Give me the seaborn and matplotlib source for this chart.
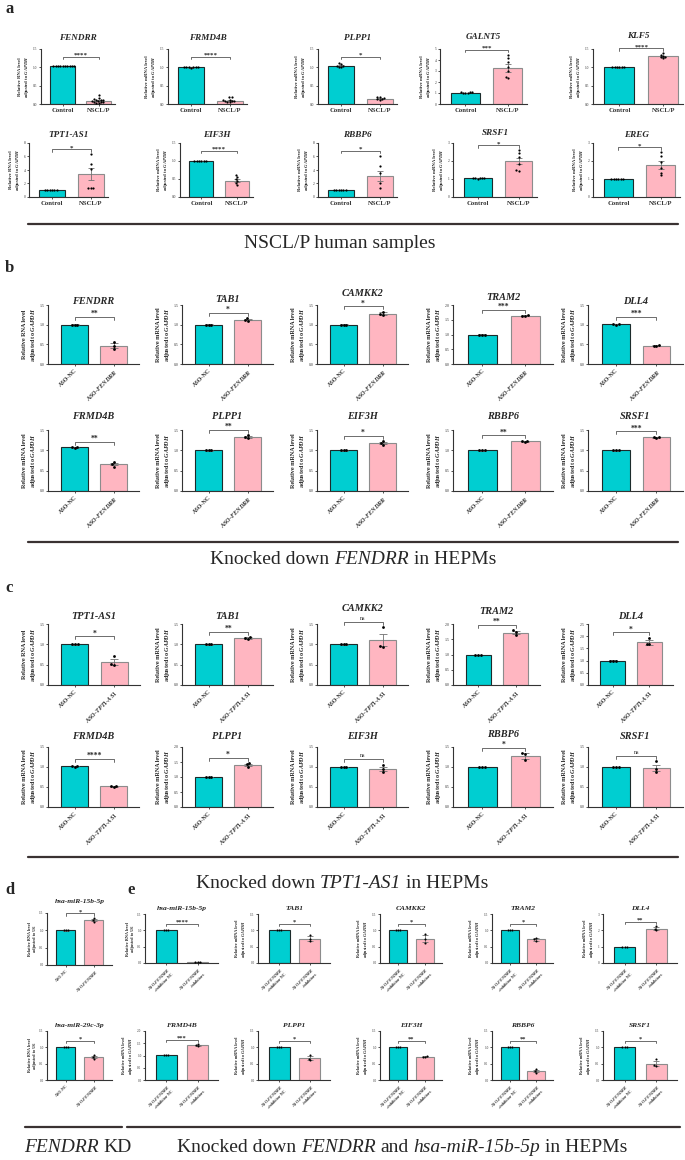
import matplotlib
matplotlib.use('Agg')
import matplotlib.pyplot as plt
import matplotlib.transforms as mtransforms
from matplotlib.lines import Line2D
import seaborn as sns
import pandas as pd
import numpy as np

sns.set_style('ticks')
plt.rcParams['font.family'] = ['Liberation Serif', 'DejaVu Serif']
plt.rcParams['mathtext.fontset'] = 'custom'
plt.rcParams['mathtext.rm'] = 'Liberation Serif:bold'
plt.rcParams['mathtext.it'] = 'Liberation Serif:italic:bold'
plt.rcParams['mathtext.bf'] = 'Liberation Serif:bold'

TEAL = '#00CED1'
PINK = '#FFB6C1'
W, H = 685, 1160

# ---------------- data ----------------
# panel a, row 1 (Control vs NSCL/P)
a1_genes = ['FENDRR', 'FRMD4B', 'PLPP1', 'GALNT5', 'KLF5']
a1_ctrl = [1.04, 1.0, 1.05, 1.04, 1.0]
a1_trt = [0.09, 0.09, 0.15, 3.28, 1.30]
a1_sem = [0.02, 0.02, 0.02, 0.35, 0.02]
a1_ctrl_pts = [[1.03, 1.04, 1.05, 1.03, 1.04, 1.05, 1.04, 1.03, 1.05, 1.04],
               [1.0, 1.0, 1.01, 1.0, 0.99, 1.0, 1.0],
               [1.0, 1.02, 1.03, 1.05, 1.08, 1.12],
               [1.0, 1.02, 1.04, 1.05, 1.06, 1.07],
               [1.0, 1.0, 1.0, 1.0, 1.0, 1.0]]
a1_trt_pts = [[0.03, 0.04, 0.05, 0.06, 0.06, 0.08, 0.09, 0.10, 0.11, 0.12, 0.14, 0.16, 0.24],
              [0.05, 0.06, 0.07, 0.08, 0.09, 0.10, 0.12, 0.18, 0.20],
              [0.11, 0.13, 0.14, 0.16, 0.18, 0.20],
              [2.35, 2.5, 3.0, 3.4, 3.8, 4.2, 4.5],
              [1.25, 1.27, 1.29, 1.31, 1.33, 1.38]]
a1_ymax = [1.5, 1.5, 1.5, 5, 1.5]
a1_step = [0.5, 0.5, 0.5, 1, 0.5]
a1_sig = ['****', '****', '*', '***', '****']

# panel a, row 2
a2_genes = ['TPT1-AS1', 'EIF3H', 'RBBP6', 'SRSF1', 'EREG']
a2_ctrl = [1.0, 1.0, 1.0, 1.05, 1.0]
a2_trt = [3.4, 0.45, 3.1, 2.0, 1.78]
a2_sem = [0.9, 0.04, 0.75, 0.15, 0.2]
a2_ctrl_pts = [[1.0, 1.0, 1.0, 1.0, 1.0, 1.0],
               [1.0, 1.0, 1.0, 1.0, 1.0, 1.0],
               [1.0, 1.0, 1.0, 1.0, 1.0, 1.0],
               [1.02, 1.04, 1.05, 1.06, 1.05, 1.07],
               [1.0, 1.0, 1.0, 1.0, 1.0, 1.0]]
a2_trt_pts = [[1.3, 1.3, 1.4, 4.1, 4.85, 6.35],
              [0.33, 0.38, 0.45, 0.5, 0.55, 0.6],
              [1.4, 2.0, 3.5, 4.6, 6.0],
              [1.45, 1.5, 1.85, 2.2, 2.45, 2.6],
              [1.2, 1.35, 1.6, 1.95, 2.3, 2.5]]
a2_ymax = [8, 1.5, 8, 3, 3]
a2_step = [2, 0.5, 2, 1, 1]
a2_sig = ['*', '****', '*', '*', '*']

# panel b, row 1 (ASO-NC vs ASO-FENDRR)
b1_genes = ['FENDRR', 'TAB1', 'CAMKK2', 'TRAM2', 'DLL4']
b1_ctrl = [1.0, 1.0, 1.0, 1.0, 1.01]
b1_trt = [0.47, 1.13, 1.28, 1.64, 0.47]
b1_sem = [0.06, 0.02, 0.03, 0.01, 0.02]
b1_ctrl_pts = [[1.0, 1.0, 1.0], [1.0, 1.0, 1.0], [1.0, 1.0, 1.0], [1.0, 1.0, 1.0], [1.0, 1.01, 1.02]]
b1_trt_pts = [[0.38, 0.46, 0.57], [1.10, 1.12, 1.17], [1.24, 1.28, 1.33], [1.63, 1.64, 1.65], [0.45, 0.47, 0.49]]
b1_ymax = [1.5, 1.5, 1.5, 2.0, 1.5]
b1_sig = ['**', '*', '*', '***', '***']

# panel b, row 2
b2_genes = ['FRMD4B', 'PLPP1', 'EIF3H', 'RBBP6', 'SRSF1']
b2_ctrl = [1.07, 1.0, 1.0, 1.0, 1.0]
b2_trt = [0.66, 1.33, 1.18, 1.22, 1.32]
b2_sem = [0.03, 0.02, 0.03, 0.01, 0.01]
b2_ctrl_pts = [[1.06, 1.07, 1.08], [1.0, 1.0, 1.0], [1.0, 1.0, 1.0], [1.0, 1.0, 1.0], [1.0, 1.0, 1.0]]
b2_trt_pts = [[0.60, 0.66, 0.71], [1.30, 1.33, 1.37], [1.13, 1.18, 1.22], [1.20, 1.22, 1.24], [1.31, 1.32, 1.33]]
b2_ymax = [1.5, 1.5, 1.5, 1.5, 1.5]
b2_sig = ['**', '**', '*', '**', '***']

# panel c, row 1 (ASO-NC vs ASO-TPT1-AS1)
c1_genes = ['TPT1-AS1', 'TAB1', 'CAMKK2', 'TRAM2', 'DLL4']
c1_ctrl = [1.0, 1.0, 1.0, 0.98, 1.0]
c1_trt = [0.57, 1.15, 1.1, 1.72, 1.75]
c1_sem = [0.07, 0.02, 0.15, 0.05, 0.1]
c1_ctrl_pts = [[1.0, 1.0, 1.0], [1.0, 1.0, 1.0], [1.0, 1.0, 1.0], [0.98, 0.98, 0.98], [1.0, 1.0, 1.0]]
c1_trt_pts = [[0.50, 0.51, 0.72], [1.13, 1.16, 1.18], [0.93, 0.96, 1.42], [1.65, 1.75, 1.80], [1.66, 1.70, 1.93]]
c1_ymax = [1.5, 1.5, 1.5, 2.0, 2.5]
c1_sig = ['*', '**', 'ns', '**', '*']

# panel c, row 2
c2_genes = ['FRMD4B', 'PLPP1', 'EIF3H', 'RBBP6', 'SRSF1']
c2_ctrl = [1.02, 1.0, 1.0, 1.0, 1.0]
c2_trt = [0.52, 1.4, 0.95, 1.27, 0.98]
c2_sem = [0.01, 0.04, 0.05, 0.07, 0.08]
c2_ctrl_pts = [[1.01, 1.02, 1.03], [1.0, 1.0, 1.0], [1.0, 1.0, 1.0], [1.0, 1.0, 1.0], [1.0, 1.0, 1.0]]
c2_trt_pts = [[0.51, 0.52, 0.53], [1.33, 1.42, 1.47], [0.87, 0.95, 1.05], [1.18, 1.32, 1.35], [0.88, 0.95, 1.14]]
c2_ymax = [1.5, 2.0, 1.5, 1.5, 1.5]
c2_sig = ['****', '*', 'ns', '*', 'ns']

# panel d (ASO-NC vs ASO-FENDRR, miRNA)
d_genes = ['hsa-miR-15b-5p', 'hsa-miR-29c-3p']
d_ctrl = [1.0, 1.0]
d_trt = [1.3, 0.7]
d_sem = [0.04, 0.04]
d_ctrl_pts = [[1.0, 1.0, 1.0], [1.0, 1.0, 1.0]]
d_trt_pts = [[1.25, 1.3, 1.36], [0.64, 0.70, 0.77]]
d_ymax = [1.5, 1.5]
d_sig = ['*', '*']

# panel e, row 1 (ASO-FENDRR +inhibitor NC vs +inhibitors)
e1_genes = ['hsa-miR-15b-5p', 'TAB1', 'CAMKK2', 'TRAM2', 'DLL4']
e1_ctrl = [1.0, 1.0, 1.0, 1.0, 1.0]
e1_trt = [0.03, 0.75, 0.75, 0.72, 2.1]
e1_sem = [0.01, 0.07, 0.1, 0.04, 0.1]
e1_ctrl_pts = [[1.0, 1.0, 1.0], [1.0, 1.0, 1.0], [1.0, 1.0, 1.0], [1.0, 1.0, 1.0], [1.0, 1.0, 1.0]]
e1_trt_pts = [[0.02, 0.03, 0.04], [0.66, 0.74, 0.85], [0.62, 0.75, 0.88], [0.68, 0.72, 0.76], [2.0, 2.1, 2.25]]
e1_ymax = [1.5, 1.5, 1.5, 1.5, 3.0]
e1_step = [0.5, 0.5, 0.5, 0.5, 1]
e1_sig = ['****', '*', '*', '*', '**']

# panel e, row 2
e2_genes = ['FRMD4B', 'PLPP1', 'EIF3H', 'RBBP6', 'SRSF1']
e2_ctrl = [1.02, 1.0, 1.0, 1.0, 1.0]
e2_trt = [1.42, 0.67, 0.71, 0.28, 0.5]
e2_sem = [0.02, 0.06, 0.02, 0.04, 0.07]
e2_ctrl_pts = [[1.01, 1.02, 1.03], [1.0, 1.0, 1.0], [1.0, 1.0, 1.0], [1.0, 1.0, 1.0], [1.0, 1.0, 1.0]]
e2_trt_pts = [[1.38, 1.42, 1.46], [0.60, 0.65, 0.77], [0.70, 0.71, 0.73], [0.22, 0.28, 0.34], [0.42, 0.45, 0.63]]
e2_ymax = [2.0, 1.5, 1.5, 1.5, 1.5]
e2_sig = ['***', '*', '**', '**', '*']

xl_a = ['Control', 'NSCL/P']
xl_b = ['ASO-NC', 'ASO-$\\mathit{FENDRR}$']
xl_c = ['ASO-NC', 'ASO-$\\mathit{TPT1}$-$\\mathit{AS1}$']
xl_e = ['ASO-$\\mathit{FENDRR}$\n+inhibitor NC', 'ASO-$\\mathit{FENDRR}$\n+inhibitors']
yl_rna = 'Relative RNA level\nadjusted to $\\mathit{GAPDH}$'
yl_mrna = 'Relative mRNA level\nadjusted to $\\mathit{GAPDH}$'
yl_u6 = 'Relative RNA level\nadjusted to U6'

st_a = dict(title=6.6, ylabel=3.4, xtick=4.8, ytick=2.6, sig=5, dot=1.6, cap=2.5, rot=0, br=0.86, xlim=(-0.6, 1.45))
st_bc = dict(title=7.4, ylabel=4.4, xtick=4.4, ytick=2.8, sig=5.5, dot=2, cap=3, rot=45, br=0.8, xlim=(-0.68, 1.65))
st_de = dict(title=5.4, ylabel=3.1, xtick=3.0, ytick=2.4, sig=4.6, dot=1.5, cap=2, rot=45, br=0.8, xlim=(-0.68, 1.65))

fig = plt.figure(figsize=(W / 100, H / 100), dpi=100)
fig.patch.set_facecolor('white')


def px_rect(l, t, r, b):
    return [l / W, 1 - b / H, (r - l) / W, (b - t) / H]


def bar_panel(rect, gene, ylabel, xlabels, ctrl_pts, trt_pts, mc, mt, sem, ymax, step, sig, st, title_y):
    ax = fig.add_axes(rect)
    groups = ['ctrl', 'trt']
    means = [mc, mt]
    sns.barplot(x=groups, y=means, hue=groups, order=groups, hue_order=groups,
                palette=[TEAL, PINK], saturation=1, legend=False, width=0.68, linewidth=0.8,
                errorbar=None, ax=ax, zorder=1)
    for patch, ec in zip(ax.patches, ['#1c2b2b', '#8c8c8c']):
        patch.set_edgecolor(ec)
    ax.errorbar([0, 1], means, yerr=[0.005, sem], fmt='none', ecolor='#707070',
                elinewidth=0.6, capsize=st['cap'], capthick=0.6, zorder=2)
    pts = pd.DataFrame({'g': ['ctrl'] * len(ctrl_pts) + ['trt'] * len(trt_pts),
                        'v': ctrl_pts + trt_pts})
    sns.swarmplot(data=pts, x='g', y='v', order=groups, color='black',
                  size=st['dot'], ax=ax, zorder=3, warn_thresh=1)
    ax.set_xlim(*st['xlim'])
    ax.set_ylim(0, ymax)
    ticks = np.arange(0, ymax + step / 2, step)
    fmt = '{:.1f}' if step < 1 else '{:.0f}'
    ax.set_yticks(ticks, [fmt.format(t) for t in ticks], fontsize=st['ytick'])
    if st['rot']:
        ax.set_xticks([0, 1], xlabels, fontsize=st['xtick'], fontweight='bold',
                      rotation=45, ha='right', rotation_mode='anchor')
    else:
        ax.set_xticks([0, 1], xlabels, fontsize=st['xtick'], fontweight='bold')
    ax.set_xlabel('')
    ax.set_ylabel(ylabel, fontsize=st['ylabel'], fontweight='bold', labelpad=1.5)
    sns.despine(ax=ax)
    for s in ['left', 'bottom']:
        ax.spines[s].set_linewidth(0.8)
        ax.spines[s].set_color('#333333')
    ax.tick_params(length=1.5, width=0.6, pad=1, colors='#333333')
    ax.tick_params(axis='x', length=1.5, pad=1.5)

    top = max(max(trt_pts), max(ctrl_pts), mt + sem, mc) / ymax
    by = max(st['br'], top + 0.09)
    trans = mtransforms.blended_transform_factory(ax.transData, ax.transAxes)
    ax.plot([0, 0, 1, 1], [by - 0.05, by, by, by - 0.05], color='#555555', lw=0.6,
            transform=trans, clip_on=False)
    if sig == 'ns':
        ax.text(0.5, by + 0.02, sig, transform=trans, ha='center', va='bottom',
                fontsize=st['sig'] * 0.8, clip_on=False)
    else:
        ax.text(0.5, by - 0.02, sig, transform=trans, ha='center', va='bottom',
                fontsize=st['sig'], fontweight='bold', clip_on=False)
    ax.text(0.5, max(title_y, by + 0.22), gene, transform=ax.transAxes, ha='center',
            va='center', fontsize=st['title'], fontweight='bold', fontstyle='italic')
    return ax


def bar_row(lefts, rights, top, bottom, genes, ylabels, xlabels, ctrl_pts, trt_pts,
            ctrl, trt, sem, ymax, steps, sig, st, title_y):
    for i in range(len(genes)):
        bar_panel(px_rect(lefts[i], top, rights[i], bottom), genes[i], ylabels[i], xlabels,
                  ctrl_pts[i], trt_pts[i], ctrl[i], trt[i], sem[i], ymax[i], steps[i],
                  sig[i], st, title_y)


def caption(xc, y, parts, size=14):
    r = fig.canvas.get_renderer()
    probe1 = fig.text(0, 0, 'n n', fontsize=size)
    probe2 = fig.text(0, 0, 'nn', fontsize=size)
    space = probe1.get_window_extent(r).width - probe2.get_window_extent(r).width
    probe1.remove()
    probe2.remove()
    objs = [fig.text(0, 1 - y / H, s, fontsize=size, va='center', ha='left',
                     fontstyle='italic' if it else 'normal') for s, it in parts]
    widths = [t.get_window_extent(r).width for t in objs]
    total = sum(widths) + space * (len(objs) - 1)
    x = xc - total / 2
    for t, w in zip(objs, widths):
        t.set_x(x / W)
        x += w + space


def hline(x0, x1, y):
    fig.add_artist(Line2D([x0 / W, x1 / W], [1 - y / H, 1 - y / H], color='#3a3232', lw=1.6))


def letter(x, y, s):
    fig.text(x / W, 1 - y / H, s, fontsize=12, fontweight='bold', va='center', ha='left')


# ---------------- panel a ----------------
letter(5, 9, 'a')
bar_row([41, 168, 318, 440, 593], [115, 247, 397, 527, 683], 49, 104, a1_genes,
        [yl_rna, yl_mrna, yl_mrna, yl_mrna, yl_mrna], xl_a, a1_ctrl_pts, a1_trt_pts,
        a1_ctrl, a1_trt, a1_sem, a1_ymax, a1_step, a1_sig, st_a, 1.2)
bar_row([29, 180, 318, 453, 593], [108, 253, 397, 537, 680], 143, 197, a2_genes,
        [yl_rna, yl_mrna, yl_mrna, yl_mrna, yl_mrna], xl_a, a2_ctrl_pts, a2_trt_pts,
        a2_ctrl, a2_trt, a2_sem, a2_ymax, a2_step, a2_sig, st_a, 1.14)
hline(28, 678, 224)
caption(340, 243, [('NSCL/P human samples', False)])

# ---------------- panel b ----------------
letter(5, 268, 'b')
b_left = [48, 182, 317, 453, 588]
b_right = [139, 273, 408, 553, 683]
bar_row(b_left, b_right, 305, 364, b1_genes, [yl_rna] + [yl_mrna] * 4, xl_b,
        b1_ctrl_pts, b1_trt_pts, b1_ctrl, b1_trt, b1_sem, b1_ymax, [0.5] * 5, b1_sig, st_bc, 1.06)
bar_row(b_left, b_right, 430, 491, b2_genes, [yl_mrna] * 5, xl_b,
        b2_ctrl_pts, b2_trt_pts, b2_ctrl, b2_trt, b2_sem, b2_ymax, [0.5] * 5, b2_sig, st_bc, 1.22)
hline(28, 678, 542)
caption(353, 559, [('Knocked down', False), ('FENDRR', True), ('in HEPMs', False)])

# ---------------- panel c ----------------
letter(5, 588, 'c')
c_right = [140, 273, 408, 540, 673]
bar_row(b_left, c_right, 624, 685, c1_genes, [yl_rna] + [yl_mrna] * 4, xl_c,
        c1_ctrl_pts, c1_trt_pts, c1_ctrl, c1_trt, c1_sem, c1_ymax, [0.5] * 5, c1_sig, st_bc, 1.12)
bar_row(b_left, b_right, 747, 807, c2_genes, [yl_mrna] * 5, xl_c,
        c2_ctrl_pts, c2_trt_pts, c2_ctrl, c2_trt, c2_sem, c2_ymax, [0.5] * 5, c2_sig, st_bc, 1.17)
hline(28, 678, 857)
caption(342, 883, [('Knocked down', False), ('TPT1-AS1', True), ('in HEPMs', False)])

# ---------------- panels d and e ----------------
letter(5, 890, 'd')
letter(127, 890, 'e')
bar_panel(px_rect(47, 913, 112, 965), d_genes[0], yl_u6, xl_b, d_ctrl_pts[0], d_trt_pts[0],
          d_ctrl[0], d_trt[0], d_sem[0], d_ymax[0], 0.5, d_sig[0], st_de, 1.12)
bar_panel(px_rect(47, 1031, 112, 1080), d_genes[1], yl_u6, xl_b, d_ctrl_pts[1], d_trt_pts[1],
          d_ctrl[1], d_trt[1], d_sem[1], d_ymax[1], 0.5, d_sig[1], st_de, 1.12)
e_left = [145, 258, 380, 492, 603]
e_right = [218, 330, 442, 553, 677]
bar_row(e_left, e_right, 914, 963, e1_genes, [yl_u6] + [yl_mrna] * 4, xl_e,
        e1_ctrl_pts, e1_trt_pts, e1_ctrl, e1_trt, e1_sem, e1_ymax, e1_step, e1_sig, st_de, 1.12)
bar_row(e_left, e_right, 1031, 1080, e2_genes, [yl_mrna] * 5, xl_e,
        e2_ctrl_pts, e2_trt_pts, e2_ctrl, e2_trt, e2_sem, e2_ymax, [0.5] * 5, e2_sig, st_de, 1.12)
hline(25, 122, 1127)
hline(127, 680, 1127)
caption(78, 1147, [('FENDRR', True), ('KD', False)])
caption(402, 1147, [('Knocked down', False), ('FENDRR', True), ('and', False),
                    ('hsa-miR-15b-5p', True), ('in HEPMs', False)])

fig.savefig('out.png', dpi=100, facecolor='white')
